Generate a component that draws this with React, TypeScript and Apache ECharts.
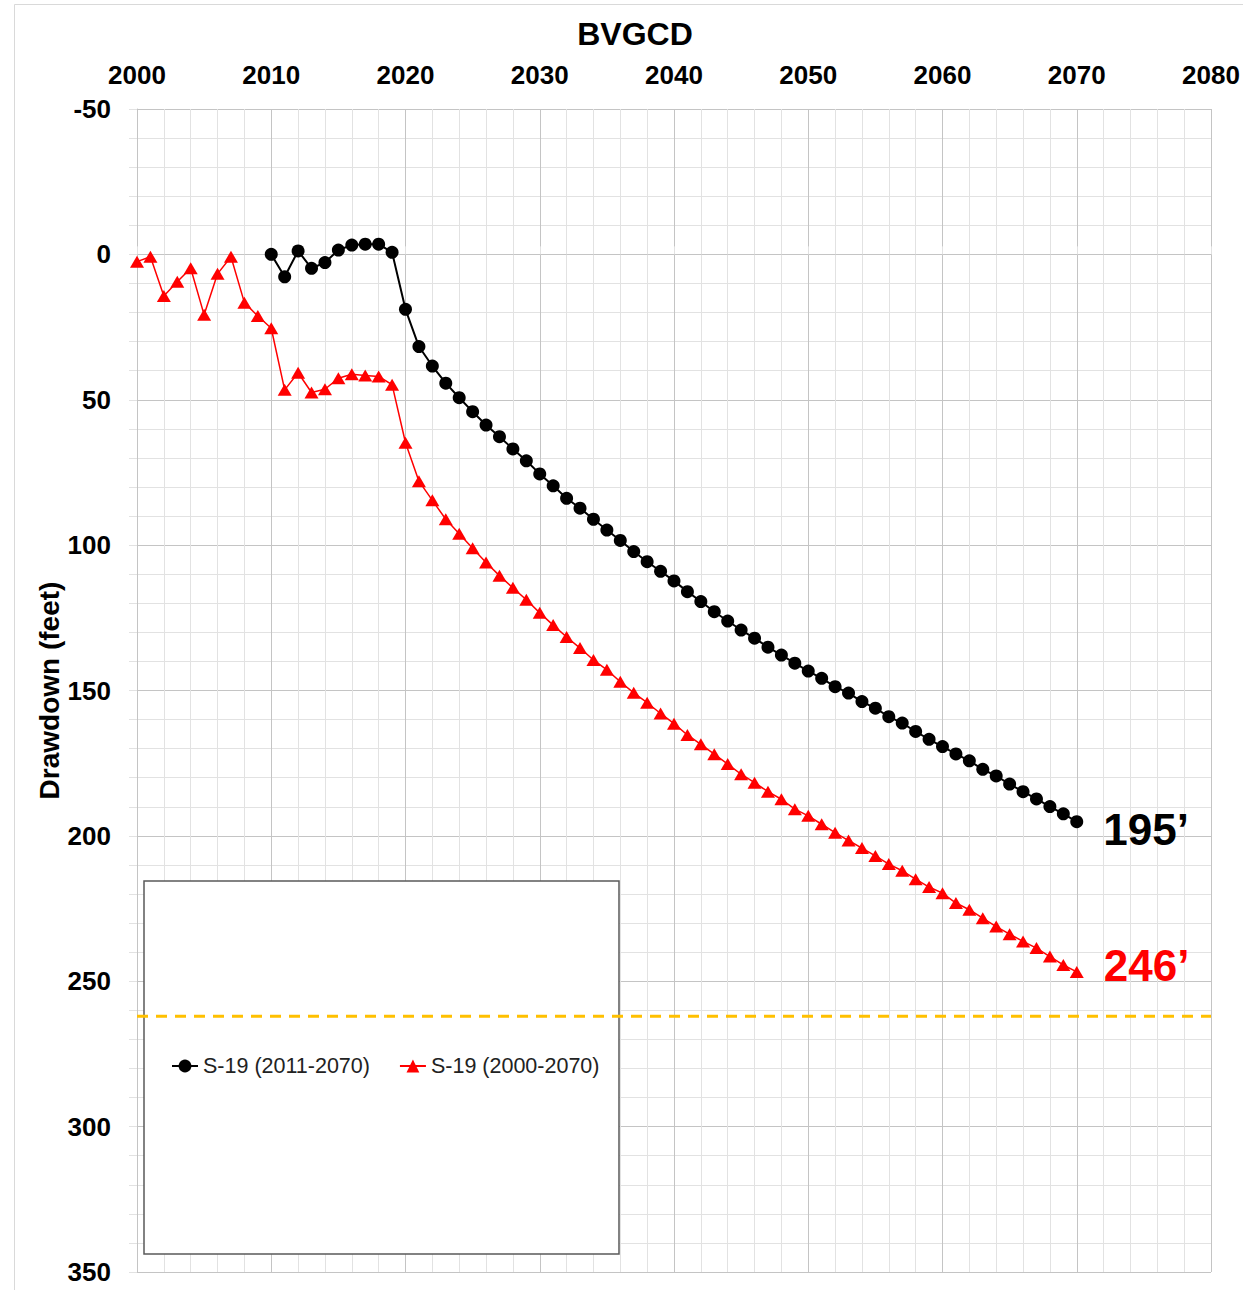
import React, { useEffect, useRef } from "react";
import * as echarts from "echarts";

const FONT = '"Liberation Sans", Arial, Helvetica, sans-serif';

const chartTitle = "BVGCD";
const yAxisName = "Drawdown (feet)";
const seriesNames = ["S-19 (2011-2070)", "S-19 (2000-2070)"];
const endLabels = ["195’", "246’"];
const thresholdValue = 262;

const xMin = 2000;
const xMax = 2080;
const xStep = 10;
const yMin = -50;
const yMax = 350;
const yStep = 50;

const blackStartYear = 2010;
const blackValues = [
  0.0, 7.7, -1.2, 4.8, 2.8, -1.5, -3.2, -3.5, -3.5, -0.7,
  18.9, 31.7, 38.4, 44.3, 49.3, 54.1, 58.7, 62.7, 66.9, 71.0,
  75.5, 79.6, 83.9, 87.3, 91.1, 94.8, 98.4, 102.2, 105.7, 109.0,
  112.3, 116.0, 119.4, 122.9, 126.1, 129.2, 132.0, 135.1, 137.8, 140.6,
  143.3, 145.8, 148.7, 150.9, 153.8, 156.1, 159.0, 161.2, 164.1, 166.8,
  169.3, 171.8, 174.2, 177.1, 179.4, 182.2, 184.8, 187.3, 189.9, 192.4,
  195.1,
];

const redStartYear = 2000;
const redValues = [
  2.5, 0.8, 14.3, 9.4, 4.8, 20.8, 6.7, 0.8, 16.6, 21.2,
  25.4, 46.6, 40.7, 47.5, 46.4, 42.6, 41.2, 41.7, 42.0, 44.8,
  64.8, 78.0, 84.6, 91.1, 96.1, 101.1, 106.0, 110.5, 114.7, 118.8,
  123.3, 127.5, 131.6, 135.4, 139.5, 142.9, 147.0, 150.8, 154.2, 157.9,
  161.4, 165.3, 168.5, 171.9, 175.3, 178.8, 181.7, 184.8, 187.4, 190.8,
  193.1, 196.0, 198.9, 201.6, 204.2, 206.9, 209.7, 212.0, 214.9, 217.6,
  219.7, 223.1, 225.4, 228.3, 231.2, 233.8, 236.3, 238.6, 241.5, 244.4,
  246.8,
];

function buildData(start: number, values: number[], label: any) {
  return values.map((v, i) => {
    const pt = [start + i, v];
    if (i === values.length - 1) return { value: pt, label };
    return pt;
  });
}

export default function App() {
  const ref = useRef<HTMLDivElement>(null);

  useEffect(() => {
    if (!ref.current) return;
    const chart = echarts.init(ref.current, undefined, { renderer: "svg" });

    const majorGrid = "#c4c4c4";
    const minorGrid = "#e2e2e2";

    const endLabelBase = {
      show: true,
      position: "right",
      distance: 20,
      fontSize: 44,
      fontWeight: "bold",
      fontFamily: FONT,
    };

    const option: any = {
      animation: false,
      backgroundColor: "#ffffff",
      textStyle: { fontFamily: FONT },
      grid: { left: 137, top: 109, width: 1074, height: 1163, containLabel: false },
      xAxis: {
        type: "value",
        position: "top",
        min: xMin,
        max: xMax,
        interval: xStep,
        axisLine: { show: true, lineStyle: { color: majorGrid, width: 1 } },
        axisTick: { show: true, length: 8, lineStyle: { color: minorGrid } },
        minorTick: { show: true, splitNumber: 5, length: 8, lineStyle: { color: minorGrid } },
        splitLine: { show: true, lineStyle: { color: majorGrid, width: 1 } },
        minorSplitLine: { show: true, lineStyle: { color: minorGrid, width: 1 } },
        axisLabel: {
          show: true,
          fontSize: 26,
          fontWeight: "bold",
          color: "#000",
          fontFamily: FONT,
          margin: 21,
          formatter: (v: number) => String(v),
        },
      },
      yAxis: {
        type: "value",
        inverse: true,
        min: yMin,
        max: yMax,
        interval: yStep,
        name: yAxisName,
        nameLocation: "middle",
        nameRotate: 90,
        nameGap: 74,
        nameMoveOverlap: false,
        nameTextStyle: { fontSize: 28, fontWeight: "bold", color: "#000", fontFamily: FONT },
        axisLine: { show: true, lineStyle: { color: majorGrid, width: 1 } },
        axisTick: { show: true, length: 8, lineStyle: { color: minorGrid } },
        minorTick: { show: true, splitNumber: 5, length: 8, lineStyle: { color: minorGrid } },
        splitLine: { show: true, lineStyle: { color: majorGrid, width: 1 } },
        minorSplitLine: { show: true, lineStyle: { color: minorGrid, width: 1 } },
        axisLabel: {
          show: true,
          fontSize: 26,
          fontWeight: "bold",
          color: "#000",
          fontFamily: FONT,
          margin: 26,
          formatter: (v: number) => String(v),
        },
      },
      legend: {
        data: seriesNames,
        left: 166,
        top: 1050,
        itemWidth: 26,
        itemHeight: 16,
        itemGap: 29,
        z: 20,
        textStyle: { fontSize: 21.5, color: "#222", fontFamily: FONT },
      },
      graphic: [
        {
          type: "rect",
          silent: true,
          z: -10,
          shape: { x: 14.5, y: 4.5, width: 1400, height: 1400 },
          style: { fill: "none", stroke: "#d9d9d9", lineWidth: 1 },
        },
        {
          type: "rect",
          silent: true,
          z: 5,
          shape: { x: 144, y: 881, width: 475, height: 373 },
          style: { fill: "#ffffff", stroke: "#5a5a5a", lineWidth: 1.5 },
        },
        {
          type: "text",
          silent: true,
          x: 635,
          y: 34,
          z: 5,
          style: {
            text: chartTitle,
            align: "center",
            verticalAlign: "middle",
            fontSize: 32,
            fontWeight: "bold",
            fontFamily: FONT,
            fill: "#000",
          },
        },
      ],
      series: [
        {
          name: seriesNames[0],
          type: "line",
          z: 3,
          data: buildData(blackStartYear, blackValues, {
            ...endLabelBase,
            formatter: endLabels[0],
            color: "#000",
            offset: [0, 8],
          }),
          symbol: "circle",
          symbolSize: 13,
          itemStyle: { color: "#000" },
          lineStyle: { color: "#000", width: 2 },
        },
        {
          name: seriesNames[1],
          type: "line",
          z: 3,
          data: buildData(redStartYear, redValues, {
            ...endLabelBase,
            formatter: endLabels[1],
            color: "#ff0000",
            offset: [0, -6],
          }),
          symbol: "triangle",
          symbolSize: [14, 12],
          itemStyle: { color: "#ff0000" },
          lineStyle: { color: "#ff0000", width: 1.5 },
        },
        {
          name: "threshold",
          type: "line",
          z: 10,
          silent: true,
          symbol: "none",
          data: [
            [xMin, thresholdValue],
            [xMax, thresholdValue],
          ],
          lineStyle: { color: "#FFC000", width: 3, type: [11, 8] },
        },
      ],
    };

    chart.setOption(option);
    return () => chart.dispose();
  }, []);

  return (
    <div
      ref={ref}
      style={{ position: "absolute", left: 0, top: 0, width: 1243, height: 1290, background: "#fff" }}
    />
  );
}
